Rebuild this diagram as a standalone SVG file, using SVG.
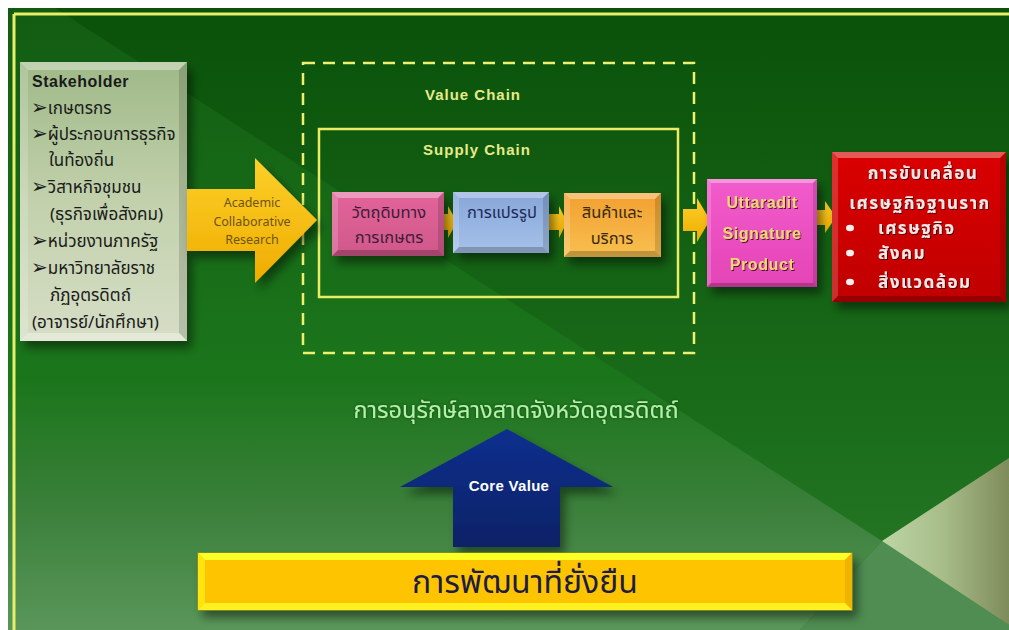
<svg xmlns="http://www.w3.org/2000/svg" width="1009" height="630" viewBox="0 0 1009 630">
<defs>
<linearGradient id="gDark" x1="0" y1="0" x2="0" y2="1">
<stop offset="0" stop-color="#0a510a"/><stop offset="0.7" stop-color="#1b6e1b"/><stop offset="1" stop-color="#2a7a2a"/>
</linearGradient>
<linearGradient id="gLight" x1="0" y1="0" x2="0" y2="1">
<stop offset="0" stop-color="#125c12"/><stop offset="0.6" stop-color="#1b761b"/><stop offset="0.8" stop-color="#3a7f3a"/><stop offset="1" stop-color="#5a965a"/>
</linearGradient>
<linearGradient id="gPale" x1="0" y1="0" x2="1" y2="0">
<stop offset="0" stop-color="#bdd6a4"/><stop offset="0.5" stop-color="#a6bb88"/><stop offset="1" stop-color="#7e8b5a"/>
</linearGradient>
<linearGradient id="gStake" x1="0" y1="0" x2="0" y2="1">
<stop offset="0" stop-color="#9fb988"/><stop offset="0.5" stop-color="#c2d1ac"/><stop offset="1" stop-color="#d6dec6"/>
</linearGradient>
<linearGradient id="gArrow" x1="0" y1="0" x2="0" y2="1">
<stop offset="0" stop-color="#fcd02a"/><stop offset="1" stop-color="#f0ac00"/>
</linearGradient>
<linearGradient id="gPink" x1="0" y1="0" x2="0" y2="1">
<stop offset="0" stop-color="#e2649a"/><stop offset="1" stop-color="#d0588a"/>
</linearGradient>
<linearGradient id="gBlue" x1="0" y1="0" x2="0" y2="1">
<stop offset="0" stop-color="#86a6d8"/><stop offset="1" stop-color="#a6c2ea"/>
</linearGradient>
<linearGradient id="gOrange" x1="0" y1="0" x2="0" y2="1">
<stop offset="0" stop-color="#f2a030"/><stop offset="1" stop-color="#f8c050"/>
</linearGradient>
<linearGradient id="gMag" x1="0" y1="0" x2="0" y2="1">
<stop offset="0" stop-color="#f25ccc"/><stop offset="1" stop-color="#e444b6"/>
</linearGradient>
<linearGradient id="gRed" x1="0" y1="0" x2="0" y2="1">
<stop offset="0" stop-color="#da0202"/><stop offset="1" stop-color="#c00000"/>
</linearGradient>
<linearGradient id="gNavy" x1="0" y1="0" x2="0" y2="1">
<stop offset="0" stop-color="#0c2f8e"/><stop offset="1" stop-color="#0a2266"/>
</linearGradient>
<filter id="sh" x="-20%" y="-20%" width="150%" height="160%">
<feDropShadow dx="5" dy="7" stdDeviation="5" flood-color="#000" flood-opacity="0.45"/>
</filter>
<filter id="tsh" x="-10%" y="-30%" width="120%" height="160%">
<feDropShadow dx="1" dy="1" stdDeviation="0.6" flood-color="#300" flood-opacity="0.8"/>
</filter>
<filter id="glow" x="-10%" y="-40%" width="120%" height="180%">
<feGaussianBlur in="SourceAlpha" stdDeviation="1.5" result="b"/>
<feFlood flood-color="#0a3a0a" flood-opacity="0.8"/>
<feComposite in2="b" operator="in" result="g"/>
<feMerge><feMergeNode in="g"/><feMergeNode in="SourceGraphic"/></feMerge>
</filter>
</defs>
<style>
.th{font-family:"Noto Sans Thai","Tahoma","DejaVu Sans",sans-serif}
.en{font-family:"Liberation Sans",Arial,sans-serif}
.ar{font-family:"DejaVu Sans",sans-serif;font-size:20px;font-weight:bold}
.bt{fill:#fff;fill-opacity:.35}
.bl{fill:#fff;fill-opacity:.18}
.br{fill:#000;fill-opacity:.14}
.bb{fill:#000;fill-opacity:.22}
.frame{stroke:#e6ee6a;stroke-width:3;fill:none}
.arr{fill:url(#gArrow)}
</style>

<!-- background -->
<g id="background">
<rect x="0" y="0" width="1009" height="630" fill="#fff"/>
<rect x="8" y="8" width="1001" height="622" fill="url(#gDark)"/>
<polygon points="8,8 55,8 882,541 800,630 8,630" fill="url(#gLight)"/>
<polygon points="800,630 882,541 1009,625 1009,630" fill="#4f8d52"/>
<polygon points="882,541 1009,458 1009,625" fill="url(#gPale)"/>
<line x1="14" y1="14" x2="1009" y2="14" class="frame"/>
<line x1="14" y1="14" x2="14" y2="630" class="frame"/>
</g>

<!-- stakeholder -->
<g id="stakeholder">
<rect x="20" y="62" width="167" height="279" fill="url(#gStake)" filter="url(#sh)"/>
<polygon class="bt" points="20,62 187,62 179,70 28,70"/>
<polygon class="bl" points="20,62 28,70 28,333 20,341"/>
<polygon class="br" points="187,62 187,341 179,333 179,70"/>
<polygon points="20,341 28,333 179,333 187,341" fill="#eef2e2" fill-opacity=".6"/>
<g fill="#1a1a1a">
<text x="32" y="87" class="en" font-size="16" font-weight="bold" letter-spacing="0.5">Stakeholder</text>
<text x="31" y="114" class="th" font-size="17"><tspan class="ar">➢</tspan>เกษตรกร</text>
<text x="31" y="140" class="th" font-size="17"><tspan class="ar">➢</tspan>ผู้ประกอบการธุรกิจ</text>
<text x="49" y="166" class="th" font-size="17">ในท้องถิ่น</text>
<text x="31" y="193" class="th" font-size="17"><tspan class="ar">➢</tspan>วิสาหกิจชุมชน</text>
<text x="50" y="220" class="th" font-size="17">(ธุรกิจเพื่อสังคม)</text>
<text x="31" y="247" class="th" font-size="17"><tspan class="ar">➢</tspan>หน่วยงานภาครัฐ</text>
<text x="31" y="274" class="th" font-size="17"><tspan class="ar">➢</tspan>มหาวิทยาลัยราช</text>
<text x="50" y="301" class="th" font-size="17">ภัฏอุตรดิตถ์</text>
<text x="32" y="328" class="th" font-size="17">(อาจารย์/นักศึกษา)</text>
</g>
</g>

<!-- value chain -->
<g id="value-chain">
<rect x="303" y="63" width="391" height="290" fill="none" stroke="#eef06e" stroke-width="2.5" stroke-dasharray="12 8"/>
<text x="473" y="100" class="en" font-size="15" font-weight="bold" fill="#e8ea8a" text-anchor="middle" letter-spacing="1">Value Chain</text>
</g>

<!-- supply chain -->
<g id="supply-chain">
<rect x="319" y="129" width="359" height="168" fill="none" stroke="#eaec66" stroke-width="2.5"/>
<text x="477" y="155" class="en" font-size="15" font-weight="bold" fill="#e8ea8a" text-anchor="middle" letter-spacing="1">Supply Chain</text>
</g>

<!-- connectors -->
<g id="connectors">
<g id="academic-arrow">
<polygon class="arr" points="187,189 255,189 255,158 317,220 255,283 255,251 187,251" filter="url(#sh)"/>
<g class="th" font-size="12.5" fill="#6e5414" text-anchor="middle">
<text x="252" y="207">Academic</text>
<text x="252" y="226">Collaborative</text>
<text x="252" y="244">Research</text>
</g>
</g>
<polygon class="arr" points="438,214 448,214 448,206 457,222 448,238 448,230 438,230"/>
<polygon class="arr" points="549,214 559,214 559,206 567,222 559,238 559,230 549,230"/>
<polygon class="arr" points="683,209 697,209 697,198 710,220 697,242 697,231 683,231"/>
<polygon class="arr" points="817,210 825,210 825,201 836,217 825,233 825,225 817,225"/>
<g id="core-value-arrow">
<polygon points="507,429 613,487 560,487 560,547 453,547 453,487 400,487" fill="url(#gNavy)" filter="url(#sh)"/>
<text x="509" y="491" class="en" font-size="15" font-weight="bold" fill="#fff" text-anchor="middle" letter-spacing="0.3">Core Value</text>
</g>
</g>

<!-- raw materials -->
<g id="raw-materials">
<rect x="332" y="192" width="112" height="64" fill="url(#gPink)" filter="url(#sh)"/>
<polygon class="bt" points="332,192 444,192 438,198 338,198"/>
<polygon class="bl" points="332,192 338,198 338,250 332,256"/>
<polygon class="br" points="444,192 444,256 438,250 438,198"/>
<polygon class="bb" points="332,256 338,250 438,250 444,256"/>
<text x="389" y="218" class="th" font-size="16.5" fill="#3e1c38" text-anchor="middle">วัตถุดิบทาง</text>
<text x="389" y="243" class="th" font-size="16.5" fill="#3e1c38" text-anchor="middle">การเกษตร</text>
</g>

<!-- processing -->
<g id="processing">
<rect x="453" y="192" width="96" height="61" fill="url(#gBlue)" filter="url(#sh)"/>
<polygon class="bt" points="453,192 549,192 543,198 459,198"/>
<polygon class="bl" points="453,192 459,198 459,247 453,253"/>
<polygon class="br" points="549,192 549,253 543,247 543,198"/>
<polygon class="bb" points="453,253 459,247 543,247 549,253"/>
<text x="502" y="218" class="th" font-size="16.5" fill="#1c2a58" text-anchor="middle">การแปรรูป</text>
</g>

<!-- products -->
<g id="products">
<rect x="564" y="193" width="97" height="64" fill="url(#gOrange)" filter="url(#sh)"/>
<polygon class="bt" points="564,193 661,193 655,199 570,199"/>
<polygon class="bl" points="564,193 570,199 570,251 564,257"/>
<polygon class="br" points="661,193 661,257 655,251 655,199"/>
<polygon class="bb" points="564,257 570,251 655,251 661,257"/>
<text x="612" y="218" class="th" font-size="16.5" fill="#3a2a10" text-anchor="middle">สินค้าและ</text>
<text x="612" y="244" class="th" font-size="16.5" fill="#3a2a10" text-anchor="middle">บริการ</text>
</g>

<!-- Uttaradit signature product -->
<g id="signature-product">
<rect x="707" y="179" width="110" height="108" fill="url(#gMag)" filter="url(#sh)"/>
<polygon class="bt" points="707,179 817,179 813,183 711,183"/>
<polygon class="bl" points="707,179 711,183 711,283 707,287"/>
<polygon class="br" points="817,179 817,287 813,283 813,183"/>
<polygon class="bb" points="707,287 711,283 813,283 817,287"/>
<g class="en" font-size="16" font-weight="bold" fill="#f2d57a" text-anchor="middle" letter-spacing="0.6" filter="url(#tsh)">
<text x="762" y="208">Uttaradit</text>
<text x="762" y="239">Signature</text>
<text x="762" y="270">Product</text>
</g>
</g>

<!-- grassroots economy -->
<g id="grassroots-economy">
<rect x="832" y="152" width="174" height="150" fill="url(#gRed)" filter="url(#sh)"/>
<polygon class="bt" points="832,152 1006,152 1000,158 838,158"/>
<polygon class="bl" points="832,152 838,158 838,296 832,302"/>
<polygon class="br" points="1006,152 1006,302 1000,296 1000,158"/>
<polygon class="bb" points="832,302 838,296 1000,296 1006,302"/>
<g class="th" font-size="17" font-weight="bold" fill="#f6e6e6" letter-spacing="1.5" filter="url(#tsh)">
<text x="923" y="179" text-anchor="middle">การขับเคลื่อน</text>
<text x="920" y="209" text-anchor="middle">เศรษฐกิจฐานราก</text>
<text x="878" y="234">เศรษฐกิจ</text>
<text x="878" y="259">สังคม</text>
<text x="878" y="288">สิ่งแวดล้อม</text>
</g>
<g fill="#f4f0f0">
<ellipse cx="850" cy="228" rx="4" ry="3.3"/>
<ellipse cx="850" cy="253" rx="4" ry="3.3"/>
<ellipse cx="850" cy="282" rx="4" ry="3.3"/>
</g>
</g>

<!-- conservation label -->
<g id="conservation">
<text x="516" y="418" class="th" font-size="23.5" fill="#b4f0aa" text-anchor="middle" filter="url(#glow)">การอนุรักษ์ลางสาดจังหวัดอุตรดิตถ์</text>
</g>

<!-- sustainable development -->
<g id="sustainable-development">
<rect x="198" y="553" width="654" height="57" fill="#ffc400" stroke="#a09a10" stroke-width="1" filter="url(#sh)"/>
<polygon points="198,553 852,553 845,560 205,560" fill="#ffff28"/>
<polygon points="198,553 205,560 205,603 198,610" fill="#ffe410"/>
<polygon points="852,553 852,610 845,603 845,560" fill="#f0b400"/>
<polygon points="198,610 205,603 845,603 852,610" fill="#fff020"/>
<text x="525" y="593" class="th" font-size="32" fill="#1c1c44" text-anchor="middle">การพัฒนาที่ยั่งยืน</text>
</g>
</svg>
